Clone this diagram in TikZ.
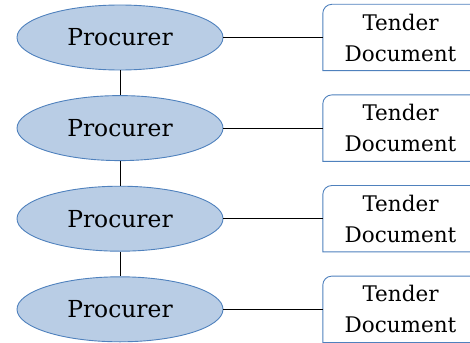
\documentclass[tikz,border=0pt]{standalone}
\usepackage{fontspec}
\setmainfont{DejaVu Serif}
\usetikzlibrary{shapes.geometric}
\definecolor{procfill}{RGB}{185,205,229}
\definecolor{procline}{RGB}{79,129,189}

\tikzset{
	procurer/.style={ellipse, draw=procline, fill=procfill, line width=0.9pt, minimum width=206pt, minimum height=65pt, inner sep=0pt, font=\fontsize{23.4}{28}\selectfont},
	tender/.style={rectangle, fill=white, minimum width=155pt, minimum height=66pt, inner sep=0pt, align=center, font=\fontsize{21.5}{31}\selectfont},
	link/.style={draw=black, line width=0.9pt}
}

\begin{document}
\begin{tikzpicture}[x=1pt, y=-1pt]
	\useasboundingbox (0,0) rectangle (470,342);
	\clip (0,0) rectangle (470,342);
	\foreach \i/\y in {1/37.5, 2/128.1, 3/218.7, 4/309.3} {
		\node[procurer] (proc\i) at (120,\y) {Procurer};
		\node[tender] (tend\i) at (400.5,\y) {Tender\\Document};
		\draw[procline, line width=0.9pt] (tend\i.south east) -- (tend\i.south west) -- ([yshift=-9pt]tend\i.north west) arc[start angle=180, end angle=90, radius=9pt] -- (tend\i.north east) -- cycle;
		\draw[link] (proc\i.east) -- (tend\i.west);
	}
	\draw[link] (proc1.south) -- (proc2.north);
	\draw[link] (proc2.south) -- (proc3.north);
	\draw[link] (proc3.south) -- (proc4.north);
\end{tikzpicture}
\end{document}
